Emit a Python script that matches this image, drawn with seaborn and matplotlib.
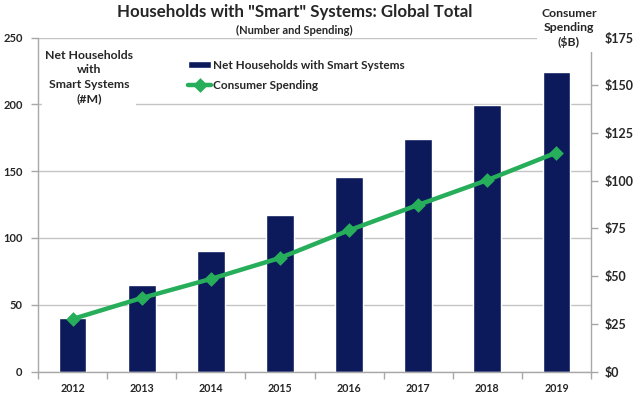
import matplotlib
matplotlib.use("Agg")
import matplotlib.pyplot as plt
import seaborn as sns
import numpy as np
import pandas as pd

years = ["2012", "2013", "2014", "2015", "2016", "2017", "2018", "2019"]
households = [40, 65, 90, 117, 145.5, 174, 199.5, 224]
spending = [27.5, 38.5, 48.5, 59.5, 74, 87.3, 100.3, 114.7]
left_ticks = [0, 50, 100, 150, 200, 250]
right_ticks = [0, 25, 50, 75, 100, 125, 150, 175]
right_labels = ["$0", "$25", "$50", "$75", "$100", "$125", "$150", "$175"]

sns.set_theme(style="white")
plt.rcParams["font.family"] = ["Lato", "DejaVu Sans"]
plt.rcParams["font.weight"] = "bold"

TXT = "#262626"
NAVY = "#0c1a5c"
GREEN = "#27ae5a"
GRID = "#c4c4c4"
SPINE = "#a8a8a8"

df = pd.DataFrame({"year": years, "households": households, "spending": spending})

fig = plt.figure(figsize=(6.4, 3.97), dpi=100)
W, H = 640, 397
x0, x1, y0, y1 = 38, 591, 371.5, 37.5
ax = fig.add_axes([x0 / W, (H - y0) / H, (x1 - x0) / W, (y0 - y1) / H])

sns.barplot(data=df, x="year", y="households", color=NAVY, saturation=1,
            width=0.4, ax=ax, label="Net Households with Smart Systems")
ax.set_ylim(0, 250)
ax.set_xlim(-0.5, 7.5)
ax.set_yticks(left_ticks)
ax.yaxis.grid(True, color=GRID, linewidth=1)
ax.set_axisbelow(True)
ax.set_xlabel("")
ax.set_ylabel("")
for s in ["top", "right"]:
    ax.spines[s].set_visible(False)
for s in ["left", "bottom"]:
    ax.spines[s].set_color(SPINE)
    ax.spines[s].set_linewidth(1)
ax.tick_params(axis="y", left=True, length=5, width=1, color=SPINE, pad=6,
               labelsize=8, labelcolor=TXT)
ax.tick_params(axis="x", bottom=False, length=0, pad=8, labelsize=7.7, labelcolor=TXT)
ax.set_xticks(np.arange(-0.5, 8, 1), minor=True)
ax.tick_params(axis="x", which="minor", bottom=True, length=5, width=1, color=SPINE)
for t in ax.get_xticklabels() + ax.get_yticklabels():
    t.set_fontweight("bold")

ax2 = ax.twinx()
sns.pointplot(data=df, x="year", y="spending", color=GREEN, markers="D",
              linewidth=3.2, markersize=5.5, ax=ax2, label="Consumer Spending")
ax2.set_ylim(0, 175)
ax2.set_xlim(-0.5, 7.5)
ax2.set_yticks(right_ticks)
ax2.set_yticklabels(right_labels)
ax2.set_ylabel("")
ax2.set_xlabel("")
for s in ["top", "left", "bottom"]:
    ax2.spines[s].set_visible(False)
ax2.spines["right"].set_color(SPINE)
ax2.spines["right"].set_linewidth(1)
ax2.tick_params(axis="y", right=True, length=5, width=1, color=SPINE, pad=5,
                labelsize=9, labelcolor=TXT)
for t in ax2.get_yticklabels():
    t.set_fontweight("bold")
ax2.grid(False)

h1, l1 = ax.get_legend_handles_labels()
h2, l2 = ax2.get_legend_handles_labels()
if ax.get_legend() is not None:
    ax.get_legend().remove()
leg = ax2.legend(h1 + h2, l1 + l2, loc="upper left",
                 bbox_to_anchor=(183 / W, 1 - 55 / H), bbox_transform=fig.transFigure,
                 frameon=False, fontsize=8.5, handlelength=2.0, handleheight=0.6,
                 handletextpad=0.1, labelspacing=0.75, borderaxespad=0)
for t in leg.get_texts():
    t.set_color(TXT)
    t.set_fontweight("bold")

fig.text(295 / W, 1 - 12 / H, 'Households with "Smart" Systems: Global Total',
         ha="center", va="center", fontsize=12.2, fontweight="bold", color=TXT)
fig.text(294 / W, 1 - 30 / H, "(Number and Spending)",
         ha="center", va="center", fontsize=8, fontweight="bold", color=TXT)
fig.text(89 / W, 1 - 77 / H, "Net Households\nwith\nSmart Systems\n(#M)",
         ha="center", va="center", fontsize=8.8, fontweight="bold", color=TXT,
         linespacing=1.35,
         bbox=dict(facecolor="white", edgecolor="none", pad=2), zorder=10)
fig.text(569 / W, 1 - 28 / H, "Consumer\nSpending\n($B)",
         ha="center", va="center", fontsize=8.8, fontweight="bold", color=TXT,
         linespacing=1.3,
         bbox=dict(facecolor="white", edgecolor="none", pad=3), zorder=10)

fig.savefig("out.png", dpi=100, facecolor="white")
